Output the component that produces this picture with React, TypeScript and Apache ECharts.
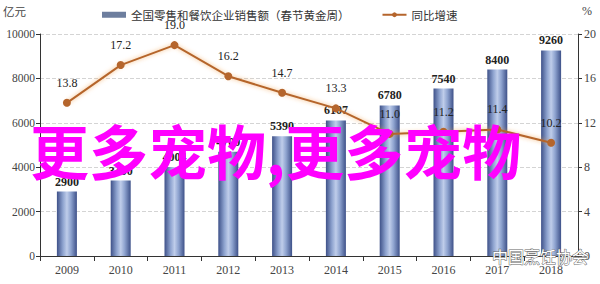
import React, { useEffect, useRef } from "react";
import * as echarts from "echarts";

const categories = ["2009", "2010", "2011", "2012", "2013", "2014", "2015", "2016", "2017", "2018"];
const salesValues = [2900, 3400, 4004, 4700, 5390, 6107, 6780, 7540, 8400, 9260];
const growthValues = [13.8, 17.2, 19.0, 16.2, 14.7, 13.3, 11.0, 11.2, 11.4, 10.2];
const barName = "全国零售和餐饮企业销售额（春节黄金周）";
const lineName = "同比增速";
const leftUnit = "亿元";
const rightUnit = "%";
const overlayText = "更多宠物,更多宠物";
const watermarkText = "中国烹饪协会";

const serif = "'Liberation Serif', 'DejaVu Serif', serif";
const cjk = "'Noto Sans CJK SC', sans-serif";

export default function App() {
  const ref = useRef<HTMLDivElement>(null);
  useEffect(() => {
    if (!ref.current) return;
    const chart = echarts.init(ref.current, undefined, { renderer: "svg" });
    const barGradient = new echarts.graphic.LinearGradient(0, 0, 1, 0, [
      { offset: 0, color: "#3e5189" },
      { offset: 0.3, color: "#8ea3cf" },
      { offset: 0.5, color: "#bfcdea" },
      { offset: 0.7, color: "#8ea3cf" },
      { offset: 1, color: "#3e5189" },
    ]);
    chart.setOption({
      animation: false,
      backgroundColor: "#ffffff",
      grid: { left: 40, right: 22, top: 34, bottom: 28 },
      legend: {
        left: 97,
        top: 4,
        itemGap: 32,
        itemWidth: 24,
        itemHeight: 6,
        textStyle: { fontFamily: cjk, fontSize: 11.5, color: "#333" },
        data: [
          { name: barName, icon: "rect", itemStyle: { color: "#6d7e9e" } },
          { name: lineName },
        ],
      },
      xAxis: {
        type: "category",
        data: categories,
        axisLine: { lineStyle: { color: "#333", width: 1 } },
        axisTick: { show: true, length: 5, lineStyle: { color: "#333" } },
        axisLabel: { fontFamily: serif, fontSize: 12, color: "#444", margin: 8 },
      },
      yAxis: [
        {
          type: "value",
          min: 0,
          max: 10000,
          interval: 2000,
          axisLine: { show: true, lineStyle: { color: "#333" } },
          axisTick: { show: true, length: 4, lineStyle: { color: "#333" } },
          axisLabel: {
            fontFamily: serif,
            fontSize: 11.5,
            color: "#444",
            margin: 5,
            formatter: (v: number) => String(v),
          },
          splitLine: { show: true, lineStyle: { type: "dashed", color: "#d4d4d4" } },
        },
        {
          type: "value",
          min: 0,
          max: 20,
          interval: 4,
          axisLine: { show: true, lineStyle: { color: "#333" } },
          axisTick: { show: true, length: 4, lineStyle: { color: "#333" } },
          axisLabel: { fontFamily: serif, fontSize: 12, color: "#444", margin: 6 },
          splitLine: { show: false },
        },
      ],
      series: [
        {
          name: barName,
          type: "bar",
          data: salesValues,
          barWidth: 20,
          itemStyle: { color: barGradient },
          label: {
            show: true,
            position: "top",
            distance: 4,
            fontFamily: serif,
            fontSize: 12,
            fontWeight: "bold",
            color: "#222",
          },
          z: 2,
        },
        {
          name: lineName,
          type: "line",
          yAxisIndex: 1,
          data: growthValues,
          symbol: "circle",
          symbolSize: 8,
          lineStyle: { color: "#b5652c", width: 2, shadowColor: "rgba(240,150,60,0.7)", shadowBlur: 4 },
          itemStyle: { color: "#b5652c" },
          label: {
            show: true,
            position: "top",
            distance: 10,
            fontFamily: serif,
            fontSize: 12,
            color: "#222",
            formatter: (p: any) => Number(p.value).toFixed(1),
          },
          z: 3,
        },
      ],
      graphic: [
        {
          type: "text",
          left: 3,
          top: 5,
          style: { text: leftUnit, fontFamily: cjk, fontSize: 11.5, fill: "#444" },
        },
        {
          type: "text",
          left: 582,
          top: 5,
          style: { text: rightUnit, fontFamily: serif, fontSize: 12, fill: "#444" },
        },
        {
          type: "text",
          x: 492,
          y: 256,
          z: 90,
          style: {
            text: watermarkText,
            fontFamily: cjk,
            fontSize: 16,
            fill: "#ffffff",
            stroke: "#666",
            lineWidth: 1,
            verticalAlign: "middle",
          },
        },
        {
          type: "text",
          x: 30,
          y: 149,
          z: 100,
          style: {
            text: overlayText,
            fontFamily: cjk,
            fontSize: 59,
            fontWeight: "bold",
            fill: "#ff00ff",
            verticalAlign: "middle",
          },
        },
      ],
    });
    return () => chart.dispose();
  }, []);
  return <div ref={ref} style={{ width: 600, height: 284, position: "absolute", left: 0, top: 0 }} />;
}
